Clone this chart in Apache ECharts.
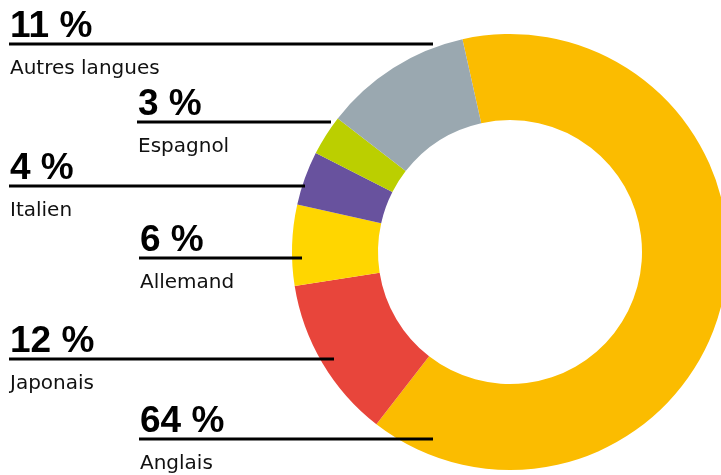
<!DOCTYPE html>
<html>
<head>
<meta charset="utf-8">
<script src="https://cdn.jsdelivr.net/npm/echarts@6/dist/echarts.min.js"></script>
<style>
  html, body { margin: 0; padding: 0; background: #fff; }
  #chart { width: 721px; height: 475px; }
</style>
</head>
<body>
<div id="chart"></div>
<script>
  // données, dans le sens horaire à partir du haut
  var langues = ['Anglais', 'Japonais', 'Allemand', 'Italien', 'Espagnol', 'Autres langues'];
  var parts = [64, 12, 6, 4, 3, 11];
  var pctLabels = ['64 %', '12 %', '6 %', '4 %', '3 %', '11 %'];
  var couleurs = ['#FBBC00', '#E8453B', '#FFD600', '#68529E', '#BBCF00', '#9AA8B0'];

  // placement des étiquettes : [x début trait, y trait, x fin trait]
  var etiquettes = [
    [139, 439, 433],
    [9, 359, 334],
    [139, 258, 302],
    [9, 186, 305],
    [137, 122, 331],
    [9, 44, 433]
  ];

  var chart = echarts.init(document.getElementById('chart'));

  var pieBase = {
    type: 'pie',
    center: [510, 252],
    radius: [132, 218],
    startAngle: 102.6,
    clockwise: true,
    avoidLabelOverlap: false,
    silent: true
  };

  // anneau coloré
  var anneau = Object.assign({}, pieBase, {
    z: 2,
    itemStyle: { borderWidth: 0 },
    label: { show: false },
    labelLine: { show: false },
    data: langues.map(function (nom, i) {
      return { name: nom, value: parts[i], itemStyle: { color: couleurs[i] } };
    })
  });

  // même anneau, transparent, par-dessus : porte les étiquettes et les traits
  var etiquetage = Object.assign({}, pieBase, {
    z: 5,
    itemStyle: { color: 'rgba(0,0,0,0)', borderWidth: 0 },
    label: {
      show: true,
      position: 'outside',
      formatter: function (p) {
        return '{p|' + pctLabels[p.dataIndex] + '}\n{n|' + p.name + '}';
      },
      rich: {
        p: {
          fontFamily: 'Liberation Sans',
          fontWeight: 'bold',
          fontSize: 37,
          lineHeight: 40,
          color: '#000'
        },
        n: {
          fontFamily: 'DejaVu Sans',
          fontSize: 20,
          lineHeight: 44,
          color: '#111'
        }
      }
    },
    labelLine: {
      show: true,
      showAbove: true,
      lineStyle: { color: '#000', width: 3 }
    },
    labelLayout: function (params) {
      var e = etiquettes[params.dataIndex];
      return {
        x: e[0] + 1,
        y: e[1] - 37,
        align: 'left',
        verticalAlign: 'top',
        labelLinePoints: [[e[2], e[1]], [e[0], e[1]], [e[0], e[1]]]
      };
    },
    data: langues.map(function (nom, i) {
      return { name: nom, value: parts[i] };
    })
  });

  chart.setOption({
    animation: false,
    series: [anneau, etiquetage]
  });
</script>
</body>
</html>
